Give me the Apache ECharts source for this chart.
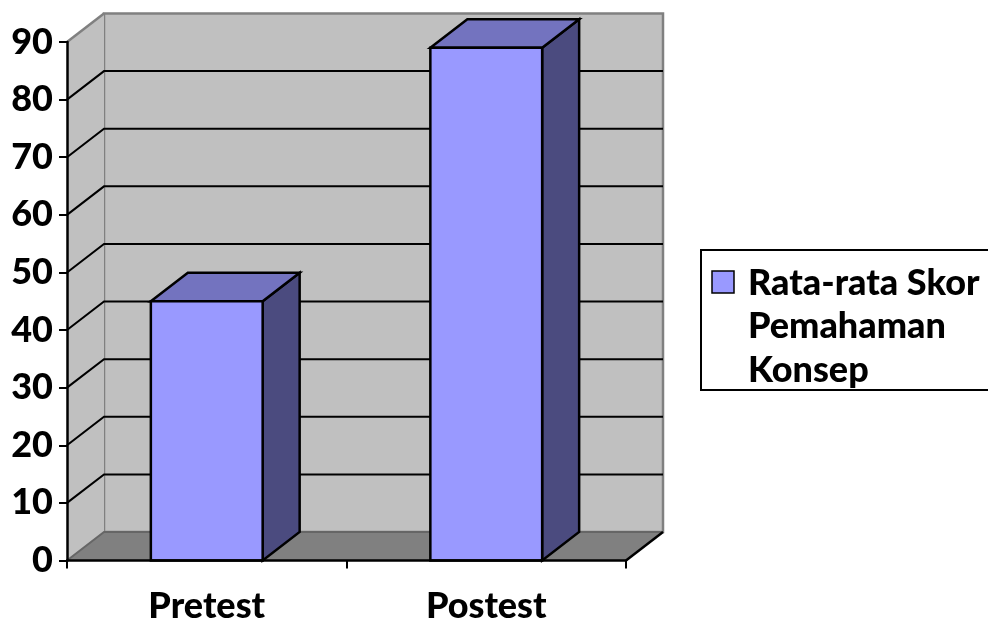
<!DOCTYPE html>
<html>
<head>
<meta charset="utf-8">
<script src="https://cdn.jsdelivr.net/npm/echarts@6/dist/echarts.min.js"></script>
<style>
  html, body { margin: 0; padding: 0; background: #ffffff; }
  #chart { width: 988px; height: 621px; }
</style>
</head>
<body>
<div id="chart"></div>
<script>
// Category names, bar values and axis ticks
const categories = ['Pretest', 'Postest'];
const scores = [45, 89];
const yTicks = [0, 10, 20, 30, 40, 50, 60, 70, 80, 90];
const seriesName = 'Rata-rata Skor Pemahaman Konsep';
const legendLines = ['Rata-rata Skor', 'Pemahaman', 'Konsep'];

// Pseudo-3D depth offset (pixels) for walls and bars
const DX = 37;
const DY = -28.5;
const FONT = 'Lato';
const FONT_SIZE = 36;

const COLORS = {
  front: '#9999ff',
  top: '#7373bf',
  side: '#4b4b7f',
  wall: '#c0c0c0',
  wallEdge: '#808080',
  floor: '#808080',
  floorEdge: '#666666'
};

const chart = echarts.init(document.getElementById('chart'), null, { renderer: 'canvas' });

// Back wall, side wall, floor and gridlines, all placed from the grid's scale
function renderWalls(params, api) {
  const cs = params.coordSys;
  const x0 = cs.x, x1 = cs.x + cs.width;
  const yTop = api.coord([0, yTicks[yTicks.length - 1]])[1];
  const yBase = api.coord([0, 0])[1];
  const children = [];
  // back wall
  children.push({
    type: 'polygon',
    shape: { points: [[x0 + DX, yTop + DY], [x1 + DX, yTop + DY], [x1 + DX, yBase + DY], [x0 + DX, yBase + DY]] },
    style: { fill: COLORS.wall, stroke: COLORS.wallEdge, lineWidth: 2.5 }
  });
  // left side wall
  children.push({
    type: 'polygon',
    shape: { points: [[x0, yTop], [x0 + DX, yTop + DY], [x0 + DX, yBase + DY], [x0, yBase]] },
    style: { fill: COLORS.wall }
  });
  children.push({
    type: 'polyline',
    shape: { points: [[x0, yTop], [x0 + DX, yTop + DY]] },
    style: { stroke: COLORS.wallEdge, lineWidth: 2.5, fill: null }
  });
  // gridlines across side wall and back wall
  yTicks.forEach(function (v) {
    if (v === 0 || v === yTicks[yTicks.length - 1]) return;
    const y = api.coord([0, v])[1];
    children.push({
      type: 'polyline',
      shape: { points: [[x0, y], [x0 + DX, y + DY], [x1 + DX, y + DY]] },
      style: { stroke: '#000000', lineWidth: 2, fill: null }
    });
  });
  // floor
  children.push({
    type: 'polygon',
    shape: { points: [[x0, yBase], [x1, yBase], [x1 + DX, yBase + DY], [x0 + DX, yBase + DY]] },
    style: { fill: COLORS.floor }
  });
  children.push({
    type: 'polyline',
    shape: { points: [[x0, yBase], [x0 + DX, yBase + DY], [x1 + DX, yBase + DY]] },
    style: { stroke: COLORS.floorEdge, lineWidth: 2, fill: null }
  });
  children.push({
    type: 'polyline',
    shape: { points: [[x1, yBase], [x1 + DX, yBase + DY]] },
    style: { stroke: '#000000', lineWidth: 2.5, fill: null }
  });
  return { type: 'group', children: children };
}

// 3D box bar: front face, top face and right side face
function renderBar(params, api) {
  const idx = api.value(0);
  const top = api.coord([idx, api.value(1)]);
  const base = api.coord([idx, 0]);
  const bw = api.size([1, 0])[0] * 0.4;
  const l = top[0] - bw / 2, r = top[0] + bw / 2;
  const t = top[1], b = base[1];
  const edge = { stroke: '#000000', lineWidth: 2.5, lineJoin: 'miter' };
  return {
    type: 'group',
    children: [
      {
        type: 'polygon',
        shape: { points: [[r, t], [r + DX, t + DY], [r + DX, b + DY], [r, b]] },
        style: Object.assign({ fill: COLORS.side }, edge)
      },
      {
        type: 'polygon',
        shape: { points: [[l, t], [l + DX, t + DY], [r + DX, t + DY], [r, t]] },
        style: Object.assign({ fill: COLORS.top }, edge)
      },
      {
        type: 'rect',
        shape: { x: l, y: t, width: bw, height: b - t },
        style: Object.assign({ fill: COLORS.front }, edge)
      }
    ]
  };
}

const labelStyle = { fontFamily: FONT, fontWeight: 900, fontSize: FONT_SIZE, color: '#000000' };

// Legend box drawn as graphic elements
const legendX = 701, legendY = 250, lineGap = 43.5;
const legendChildren = [
  {
    type: 'rect',
    shape: { x: legendX, y: legendY, width: 320, height: 140 },
    style: { fill: '#ffffff', stroke: '#000000', lineWidth: 2 }
  },
  {
    type: 'rect',
    shape: { x: 712, y: 271, width: 22, height: 22 },
    style: { fill: COLORS.front, stroke: '#000000', lineWidth: 1.5 }
  }
];
legendLines.forEach(function (line, i) {
  legendChildren.push({
    type: 'text',
    x: 748,
    y: 283 + i * lineGap,
    style: {
      text: line,
      font: '900 ' + FONT_SIZE + 'px ' + FONT,
      fill: '#000000',
      verticalAlign: 'middle',
      align: 'left'
    }
  });
});

const option = {
  animation: false,
  backgroundColor: '#ffffff',
  grid: {
    left: 67, top: 42, width: 559, height: 518.5,
    containLabel: false,
    outerBoundsMode: 'none'
  },
  xAxis: {
    type: 'category',
    data: categories,
    z: 10,
    axisLine: { show: true, lineStyle: { color: '#000000', width: 2.5 } },
    axisTick: { show: true, length: 8, lineStyle: { color: '#000000', width: 2 } },
    axisLabel: Object.assign({ margin: 28 }, labelStyle),
    splitLine: { show: false }
  },
  yAxis: {
    type: 'value',
    min: 0,
    max: 90,
    interval: 10,
    z: 10,
    axisLine: { show: true, lineStyle: { color: '#000000', width: 2.5 } },
    axisTick: { show: true, length: 8, lineStyle: { color: '#000000', width: 2 } },
    axisLabel: Object.assign({ margin: 14 }, labelStyle),
    splitLine: { show: false }
  },
  graphic: [{ type: 'group', children: legendChildren }],
  series: [
    {
      type: 'custom',
      name: 'walls',
      z: 1,
      silent: true,
      renderItem: renderWalls,
      data: [[0, 0]]
    },
    {
      type: 'custom',
      name: seriesName,
      z: 3,
      renderItem: renderBar,
      encode: { x: 0, y: 1 },
      data: scores.map(function (v, i) { return [i, v]; })
    }
  ]
};

chart.setOption(option);
</script>
</body>
</html>
